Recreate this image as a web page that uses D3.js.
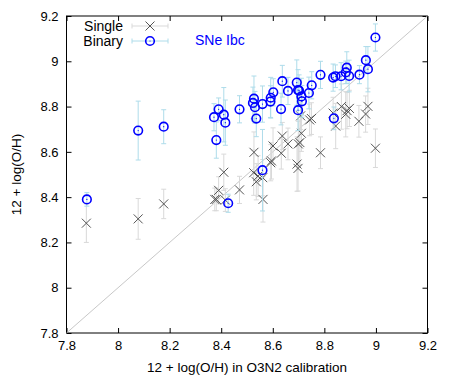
<!DOCTYPE html>
<html>
<head>
<meta charset="utf-8">
<script src="https://cdn.jsdelivr.net/npm/d3@7"></script>
<style>
  body { margin: 0; background: #fff; }
  text { font-family: "Liberation Sans", Arial, sans-serif; }
</style>
</head>
<body>
<div id="chart"></div>
<script>
// single-star models: [O3N2 value, model value, error]
const singleX = [7.877, 8.078, 8.177, 8.375, 8.381, 8.390, 8.410, 8.416, 8.471, 8.527,
  8.526, 8.536, 8.543, 8.561, 8.562, 8.592, 8.595, 8.601, 8.633, 8.637,
  8.659, 8.694, 8.698, 8.699, 8.705, 8.711, 8.708, 8.743, 8.750, 8.785,
  8.844, 8.834, 8.866, 8.883, 8.888, 8.897, 8.934, 8.960, 8.969, 8.998];
const singleY = [8.285, 8.304, 8.370, 8.390, 8.390, 8.430, 8.510, 8.387, 8.432, 8.598,
  8.508, 8.468, 8.493, 8.486, 8.390, 8.552, 8.560, 8.626, 8.594, 8.670,
  8.635, 8.546, 8.527, 8.635, 8.641, 8.682, 8.759, 8.741, 8.747, 8.596,
  8.714, 8.771, 8.800, 8.766, 8.782, 8.792, 8.735, 8.767, 8.801, 8.616];
const singleErr = [0.085, 0.09, 0.065, 0.05, 0.05, 0.06, 0.08, 0.05, 0.06, 0.09,
  0.1, 0.08, 0.09, 0.08, 0.1, 0.08, 0.08, 0.08, 0.07, 0.06,
  0.07, 0.12, 0.1, 0.1, 0.1, 0.08, 0.06, 0.07, 0.07, 0.07,
  0.1, 0.07, 0.1, 0.1, 0.08, 0.08, 0.07, 0.08, 0.08, 0.085];

// binary models
const binaryX = [7.879, 8.078, 8.177, 8.372, 8.381, 8.390, 8.410, 8.416, 8.427, 8.471,
  8.523, 8.527, 8.531, 8.536, 8.560, 8.560, 8.591, 8.592, 8.602, 8.632,
  8.637, 8.659, 8.693, 8.698, 8.702, 8.711, 8.713, 8.698, 8.740, 8.751,
  8.785, 8.834, 8.843, 8.865, 8.883, 8.887, 8.896, 8.936, 8.961, 8.969,
  8.998, 8.837];
const binaryY = [8.390, 8.694, 8.711, 8.753, 8.652, 8.788, 8.764, 8.729, 8.373, 8.788,
  8.816, 8.835, 8.797, 8.747, 8.519, 8.811, 8.822, 8.839, 8.863, 8.789,
  8.912, 8.869, 8.906, 8.873, 8.870, 8.845, 8.823, 8.784, 8.860, 8.894,
  8.940, 8.928, 8.934, 8.934, 8.951, 8.972, 8.935, 8.941, 9.005, 8.965,
  9.105, 8.748];
const binaryErr = [0.03, 0.13, 0.075, 0.06, 0.08, 0.05, 0.12, 0.1, 0.04, 0.06,
  0.07, 0.1, 0.07, 0.08, 0.18, 0.08, 0.07, 0.09, 0.06, 0.07,
  0.07, 0.06, 0.1, 0.09, 0.07, 0.08, 0.07, 0.09, 0.07, 0.06,
  0.06, 0.06, 0.05, 0.06, 0.05, 0.07, 0.07, 0.04, 0.06, 0.1,
  0.06, 0.05];

const ticks = [7.8, 8, 8.2, 8.4, 8.6, 8.8, 9, 9.2];

const width = 452, height = 377;
const margin = {left: 66.5, right: 24.5, top: 16, bottom: 44};

const svg = d3.select("#chart").append("svg")
  .attr("width", width)
  .attr("height", height);

const x = d3.scaleLinear().domain([7.8, 9.2]).range([margin.left, width - margin.right]);
const y = d3.scaleLinear().domain([7.8, 9.2]).range([height - margin.bottom, margin.top]);

const fmt = d => String(+d.toFixed(1));

// axes with inward ticks, mirrored
svg.append("g")
  .attr("transform", "translate(0," + y(7.8) + ")")
  .call(d3.axisBottom(x).tickValues(ticks).tickFormat(fmt).tickSizeInner(-5).tickSizeOuter(0).tickPadding(8));
svg.append("g")
  .attr("transform", "translate(0," + y(9.2) + ")")
  .call(d3.axisTop(x).tickValues(ticks).tickFormat("").tickSizeInner(-5).tickSizeOuter(0));
svg.append("g")
  .attr("transform", "translate(" + x(7.8) + ",0)")
  .call(d3.axisLeft(y).tickValues(ticks).tickFormat(fmt).tickSizeInner(-5).tickSizeOuter(0).tickPadding(8));
svg.append("g")
  .attr("transform", "translate(" + x(9.2) + ",0)")
  .call(d3.axisRight(y).tickValues(ticks).tickFormat("").tickSizeInner(-5).tickSizeOuter(0));

svg.selectAll(".tick text").attr("font-size", 13).attr("fill", "#000")
  .attr("font-family", "'Liberation Sans', Arial, sans-serif");
svg.selectAll(".domain").remove();
svg.selectAll(".tick line").attr("stroke", "#000");

svg.append("rect")
  .attr("x", x(7.8)).attr("y", y(9.2))
  .attr("width", x(9.2) - x(7.8)).attr("height", y(7.8) - y(9.2))
  .attr("fill", "none").attr("stroke", "#000").attr("stroke-width", 1);

// one-to-one line
svg.append("line")
  .attr("x1", x(7.8)).attr("y1", y(7.8))
  .attr("x2", x(9.2)).attr("y2", y(9.2))
  .attr("stroke", "#c8c8c8").attr("stroke-width", 1);

const single = singleX.map((v, i) => ({x: v, y: singleY[i], e: singleErr[i]}));
const binary = binaryX.map((v, i) => ({x: v, y: binaryY[i], e: binaryErr[i]}));

function errorBars(data, color) {
  const g = svg.append("g").attr("stroke", color).attr("stroke-width", 1);
  data.forEach(d => {
    g.append("line").attr("x1", x(d.x)).attr("x2", x(d.x))
      .attr("y1", y(d.y - d.e)).attr("y2", y(d.y + d.e));
    [d.y - d.e, d.y + d.e].forEach(v => {
      g.append("line").attr("x1", x(d.x) - 2.5).attr("x2", x(d.x) + 2.5)
        .attr("y1", y(v)).attr("y2", y(v));
    });
  });
}

function crosses(data, color) {
  const g = svg.append("g").attr("stroke", color).attr("stroke-width", 1);
  data.forEach(d => {
    const cx = x(d.x), cy = y(d.y), s = 4.5;
    g.append("path").attr("d", `M${cx - s},${cy - s}L${cx + s},${cy + s}M${cx - s},${cy + s}L${cx + s},${cy - s}`);
  });
}

function circles(data, color) {
  const g = svg.append("g");
  data.forEach(d => {
    g.append("circle").attr("cx", x(d.x)).attr("cy", y(d.y)).attr("r", 4.3)
      .attr("fill", "none").attr("stroke", color).attr("stroke-width", 1.6);
    g.append("circle").attr("cx", x(d.x)).attr("cy", y(d.y)).attr("r", 0.6)
      .attr("fill", color);
  });
}

errorBars(single, "#d9d9d9");
crosses(single, "#555");
errorBars(binary, "#aedcea");
circles(binary, "#0000ff");

// legend
const leg = svg.append("g");
const legRows = [
  {label: "Single", y: 26, err: "#d9d9d9", kind: "x"},
  {label: "Binary", y: 41, err: "#aedcea", kind: "o"}
];
legRows.forEach(r => {
  leg.append("text").attr("x", 123).attr("y", r.y + 4.5).attr("text-anchor", "end")
    .attr("font-size", 14).text(r.label);
  leg.append("line").attr("x1", 132).attr("x2", 168).attr("y1", r.y).attr("y2", r.y)
    .attr("stroke", r.err);
  [132, 168].forEach(px => leg.append("line").attr("x1", px).attr("x2", px)
    .attr("y1", r.y - 2.5).attr("y2", r.y + 2.5).attr("stroke", r.err));
  if (r.kind === "x") {
    const s = 4.5;
    leg.append("path").attr("d", `M${150 - s},${r.y - s}L${150 + s},${r.y + s}M${150 - s},${r.y + s}L${150 + s},${r.y - s}`)
      .attr("stroke", "#555");
  } else {
    leg.append("circle").attr("cx", 150).attr("cy", r.y).attr("r", 4.3)
      .attr("fill", "none").attr("stroke", "#0000ff").attr("stroke-width", 1.6);
    leg.append("circle").attr("cx", 150).attr("cy", r.y).attr("r", 0.6).attr("fill", "#0000ff");
  }
});
svg.append("text").attr("x", 195).attr("y", 44.5).attr("fill", "#0000ff")
  .attr("font-size", 14).text("SNe Ibc");

// axis titles
svg.append("text").attr("x", (x(7.8) + x(9.2)) / 2).attr("y", 372)
  .attr("text-anchor", "middle").attr("font-size", 13.5)
  .text("12 + log(O/H) in O3N2 calibration");
svg.append("text")
  .attr("transform", "translate(21," + (y(8.5)) + ") rotate(-90)")
  .attr("text-anchor", "middle").attr("font-size", 13.5)
  .text("12 + log(O/H)");
</script>
</body>
</html>
